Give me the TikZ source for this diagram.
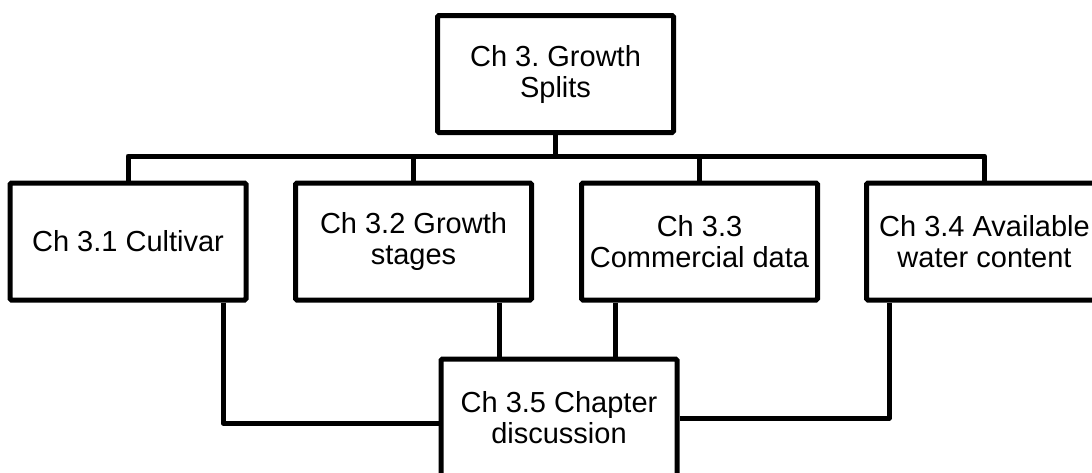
\documentclass[tikz,border=0pt]{standalone}
\usepackage{fontspec}
\setmainfont{Liberation Sans}
\frenchspacing
\begin{document}
\begin{tikzpicture}[x=1pt,y=-1pt,
  box/.style={draw=black,line width=5pt,rounded corners=1.5pt,fill=white,
    minimum width=236pt,minimum height=117pt,inner sep=0pt,align=center,
    font=\fontsize{29}{31}\selectfont\frenchspacing},
  conn/.style={draw=black,line width=5pt,line join=round}]
\useasboundingbox (0,0) rectangle (1092,472);
\clip (0,0) rectangle (1092,472);
\coordinate (bus) at (0,156);
\coordinate (k1) at (223,423);
\coordinate (k2) at (499,0);
\coordinate (k3) at (615,0);
\coordinate (k4) at (889,418);
% connectors
\path[conn] (555.5,74) -- (555.5,156);
\path[conn] (128,241) -- (128,156) -- (984.5,156) -- (984.5,241);
\path[conn] (413.5,241) -- (413.5,156);
\path[conn] (699.5,241) -- (699.5,156);
% boxes
\node[box] (top) at (555.5,74) {Ch 3. Growth\\Splits};
\node[box] (b1) at (128,241.5) {Ch 3.1 Cultivar};
\node[box] (b2) at (413.5,241.5) {Ch 3.2 Growth\\stages};
\node[box] (b3) at (699.5,241.5) {Ch 3.3\\Commercial data};
\node[box] (b4) at (984.5,241.5) {Ch 3.4 Available\\water content};
\node[box] (bot) at (559,417.5) {Ch 3.5 Chapter\\discussion};
% bottom connectors
\path[conn] (b1.south -| k1) |- (bot.west |- k1);
\path[conn] (b2.south -| k2) -- (bot.north -| k2);
\path[conn] (b3.south -| k3) -- (bot.north -| k3);
\path[conn] (bot.east |- k4) -| (b4.south -| k4);
\end{tikzpicture}
\end{document}
